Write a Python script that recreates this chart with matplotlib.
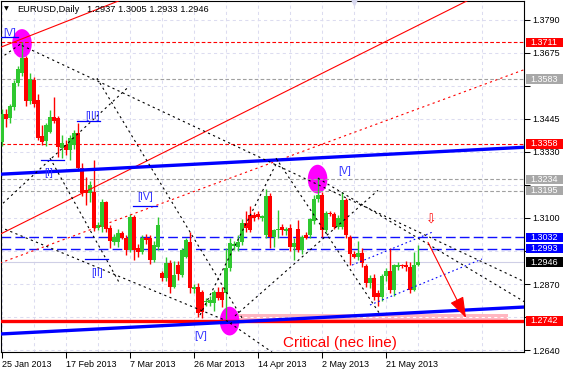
import numpy as np
import matplotlib
matplotlib.use("Agg")
import matplotlib.pyplot as plt
from matplotlib.patches import Rectangle, Ellipse
from matplotlib.transforms import blended_transform_factory

plt.rcParams['font.family'] = ['Liberation Sans', 'DejaVu Sans']

# --- EURUSD daily candles (bar index = position) ---
opens = [
    1.3363, 1.3462, 1.3447, 1.3485, 1.3568, 1.3606, 1.3655, 1.3506, 1.3579, 1.3510,
    1.3384, 1.3367, 1.3398, 1.3450, 1.3447, 1.3343, 1.3353, 1.3336, 1.3353, 1.3394,
    1.3273, 1.3196, 1.3186, 1.3190, 1.3064, 1.3070, 1.3155, 1.3064, 1.3016, 1.3016,
    1.3047, 1.3030, 1.2988, 1.3103, 1.2995, 1.2981, 1.3030, 1.3030, 1.2953, 1.2998,
    1.2908, 1.2891, 1.2943, 1.2859, 1.2935, 1.2901, 1.2964, 1.3016, 1.2852, 1.2859,
    1.2842, 1.2808, 1.2804, 1.2804, 1.2842, 1.2842, 1.2839, 1.2925, 1.3002, 1.2998,
    1.3016, 1.3082, 1.3110, 1.3110, 1.3113, 1.3100, 1.3040, 1.3175, 1.3033, 1.3057,
    1.3068, 1.3055, 1.3064, 1.2998, 1.3060, 1.2988, 1.3040, 1.3040, 1.3090, 1.3165,
    1.3180, 1.3057, 1.3117, 1.3113, 1.3068, 1.3068, 1.3162, 1.3033, 1.2974, 1.2964,
    1.2978, 1.2932, 1.2873, 1.2891, 1.2839, 1.2825, 1.2898, 1.2915, 1.2849, 1.2929,
    1.2936, 1.2936, 1.2929, 1.2849, 1.2937]
highs = [
    1.3480, 1.3478, 1.3498, 1.3580, 1.3628, 1.3711, 1.3665, 1.3603, 1.3590, 1.3530,
    1.3422, 1.3430, 1.3474, 1.3520, 1.3455, 1.3387, 1.3370, 1.3390, 1.3405, 1.3429,
    1.3290, 1.3241, 1.3230, 1.3300, 1.3085, 1.3165, 1.3160, 1.3075, 1.3045, 1.3060,
    1.3055, 1.3040, 1.3115, 1.3110, 1.3010, 1.3040, 1.3045, 1.3040, 1.3020, 1.3103,
    1.2915, 1.2965, 1.2955, 1.2950, 1.2950, 1.2995, 1.3030, 1.3050, 1.2870, 1.2875,
    1.2850, 1.2820, 1.2830, 1.2850, 1.2860, 1.2860, 1.2995, 1.3030, 1.3020, 1.3040,
    1.3095, 1.3125, 1.3140, 1.3120, 1.3125, 1.3110, 1.3200, 1.3185, 1.3060, 1.3127,
    1.3080, 1.3070, 1.3080, 1.3030, 1.3092, 1.3040, 1.3050, 1.3100, 1.3180, 1.3243,
    1.3190, 1.3125, 1.3125, 1.3120, 1.3110, 1.3190, 1.3170, 1.3040, 1.2985, 1.3020,
    1.2995, 1.2940, 1.2900, 1.2905, 1.2850, 1.2905, 1.2925, 1.2995, 1.2940, 1.2945,
    1.2940, 1.2950, 1.2945, 1.2980, 1.3005]
lows = [
    1.3352, 1.3415, 1.3430, 1.3475, 1.3558, 1.3595, 1.3490, 1.3495, 1.3485, 1.3370,
    1.3353, 1.3350, 1.3394, 1.3429, 1.3311, 1.3308, 1.3320, 1.3300, 1.3340, 1.3265,
    1.3175, 1.3144, 1.3155, 1.3055, 1.3058, 1.3050, 1.3050, 1.2995, 1.3005, 1.3000,
    1.3025, 1.2970, 1.2980, 1.2955, 1.2965, 1.2975, 1.3010, 1.2940, 1.2945, 1.2990,
    1.2880, 1.2880, 1.2840, 1.2855, 1.2885, 1.2895, 1.2960, 1.2840, 1.2840, 1.2755,
    1.2750, 1.2795, 1.2795, 1.2775, 1.2815, 1.2790, 1.2748, 1.2915, 1.2990, 1.2985,
    1.3005, 1.3050, 1.3050, 1.3090, 1.3095, 1.3090, 1.3030, 1.2995, 1.3000, 1.3030,
    1.3040, 1.3040, 1.2985, 1.2953, 1.2980, 1.2975, 1.3025, 1.3030, 1.3080, 1.3155,
    1.3033, 1.3050, 1.3105, 1.3060, 1.3060, 1.3060, 1.3030, 1.2935, 1.2960, 1.2955,
    1.2930, 1.2860, 1.2855, 1.2815, 1.2795, 1.2810, 1.2880, 1.2840, 1.2830, 1.2920,
    1.2925, 1.2915, 1.2840, 1.2845, 1.2933]
closes = [
    1.3462, 1.3445, 1.3488, 1.3568, 1.3617, 1.3655, 1.3506, 1.3582, 1.3495, 1.3377,
    1.3363, 1.3422, 1.3450, 1.3436, 1.3346, 1.3360, 1.3336, 1.3377, 1.3394, 1.3273,
    1.3186, 1.3186, 1.3214, 1.3064, 1.3075, 1.3155, 1.3060, 1.3020, 1.3033, 1.3047,
    1.3030, 1.2988, 1.3103, 1.2988, 1.2981, 1.3030, 1.3023, 1.2953, 1.3005, 1.3075,
    1.2891, 1.2943, 1.2859, 1.2901, 1.2905, 1.2988, 1.3023, 1.2856, 1.2859, 1.2769,
    1.2773, 1.2811, 1.2814, 1.2842, 1.2821, 1.2814, 1.2925, 1.3012, 1.3010, 1.3016,
    1.3082, 1.3064, 1.3057, 1.3100, 1.3103, 1.3105, 1.3175, 1.3033, 1.3057, 1.3060,
    1.3057, 1.3062, 1.2998, 1.3012, 1.2988, 1.3033, 1.3030, 1.3096, 1.3165, 1.3180,
    1.3057, 1.3117, 1.3113, 1.3068, 1.3100, 1.3162, 1.3040, 1.2975, 1.2964, 1.2978,
    1.2943, 1.2873, 1.2891, 1.2825, 1.2825, 1.2898, 1.2915, 1.2849, 1.2936, 1.2936,
    1.2932, 1.2929, 1.2849, 1.2936, 1.2946]

date_labels = ["25 Jan 2013", "17 Feb 2013", "7 Mar 2013", "26 Mar 2013",
               "14 Apr 2013", "2 May 2013", "21 May 2013"]
date_bars = [0, 16, 32, 48, 64, 80, 96]
grid_bars = [8, 24, 40, 56, 72, 88, 104, 120]
price_ticks = [1.2640, 1.2755, 1.2870, 1.2985, 1.3100, 1.3215,
               1.3330, 1.3445, 1.3560, 1.3675, 1.3790]
# scale labels hidden behind the coloured price boxes
covered_ticks = [1.2755, 1.2985, 1.3215, 1.3560]

# horizontal levels
red_levels = [1.3711, 1.3358]
gray_levels = [1.3583, 1.3234, 1.3195]
blue_levels = [1.3032, 1.2993]
critical_level = 1.2742
bid_price = 1.2946

# price scale boxes (price, background)
box_prices = [1.3711, 1.3583, 1.3358, 1.3234, 1.3195, 1.3032, 1.2993, 1.2946, 1.2742]
box_colors = ['#ff0000', '#a8a8a8', '#ff0000', '#a8a8a8', '#a8a8a8',
              '#0000ff', '#0000ff', '#000000', '#ff0000']

# trend lines, (bar, price) anchor pairs
red_solid_lines = [[(-0.5, 1.3043), (116.5, 1.3857)],
                   [(-0.5, 1.3693), (29.5, 1.3857)]]
red_dotted_line = [(-0.5, 1.2943), (130.75, 1.3617)]
blue_thick_lines = [[(-0.5, 1.3252), (130.75, 1.3346)],
                    [(-0.5, 1.2696), (130.75, 1.2790)]]
fan_lines = [
    [(-0.5, 1.3655), (4.5, 1.3704)],
    [(5.0, 1.3700), (130.75, 1.2877)],
    [(0.25, 1.3151), (31.25, 1.3551)],
    [(23.75, 1.3586), (60.0, 1.2752)],
    [(-0.5, 1.3068), (57.5, 1.2734)],
    [(12.0, 1.3308), (29.5, 1.2870)],
    [(49.5, 1.2762), (69.0, 1.3301)],
    [(68.5, 1.3308), (94.5, 1.2765)],
    [(58.25, 1.2759), (94.0, 1.3196)],
    [(79.0, 1.3238), (130.75, 1.2807)],
    [(57.0, 1.2734), (67.5, 1.2633)],
]
channel_lines = [[(87.5, 1.2936), (107.5, 1.3050)],
                 [(92.0, 1.2797), (120.0, 1.2957)]]

# Elliott wave labels
wave_text = ["[V]", "[III]", "[I]", "[IV]", "[II]", "[V]", "[V]"]
wave_bar = [1.9, 22.75, 11.75, 35.75, 23.9, 49.75, 85.75]
wave_price = [1.3745, 1.3454, 1.3257, 1.3172, 1.2910, 1.2689, 1.3264]
wave_marks = [(-0.5, 4.0, 1.3728), (18.75, 24.5, 1.3436), (9.75, 15.5, 1.3301),
              (32.75, 38.75, 1.3141), (20.75, 26.5, 1.2957)]

# highlighted turning points
circle_bar = [5.0, 78.9, 56.9]
circle_price = [1.3707, 1.3235, 1.2741]

zone_bars = (55.75, 126.5)
zone_prices = (1.2742, 1.2765)
arrow_from = (106.5, 1.3015)
arrow_to = (116.0, 1.2752)

GREEN = '#2fc82f'
RED = '#ff0000'
BLUE = '#0000ff'

fig = plt.figure(figsize=(5.65, 3.75), dpi=100)
ax = fig.add_axes([1 / 565, 23 / 375, 523 / 565, 351.5 / 375])
ax.set_xlim(-0.25, 130.5)
ax.set_ylim(1.26334, 1.38566)

# grid and scales
ax.set_xticks(date_bars)
ax.set_xticklabels(date_labels, ha='left')
ax.set_xticks(grid_bars, minor=True)
ax.yaxis.tick_right()
ax.set_yticks(price_ticks)
ax.set_yticklabels(["" if v in covered_ticks else f"{v:.4f}" for v in price_ticks])
ax.grid(True, which='both', axis='x', color='#dcdcf0', lw=0.75, ls=(0, (3, 3)), zorder=0)
ax.grid(True, which='major', axis='y', color='#dcdcf0', lw=0.75, ls=(0, (3, 3)), zorder=0)
ax.set_axisbelow(True)
ax.tick_params(axis='x', which='major', length=4, width=0.75, pad=2, labelsize=6.5)
ax.tick_params(axis='x', which='minor', length=0)
ax.tick_params(axis='y', length=4, width=0.75, pad=2, labelsize=6.5)
for s in ax.spines.values():
    s.set_linewidth(0.8)
    s.set_color('black')

# background objects
ax.add_patch(Rectangle((zone_bars[0], zone_prices[0]), zone_bars[1] - zone_bars[0],
                       zone_prices[1] - zone_prices[0], facecolor='#ffb6c1',
                       edgecolor='none', zorder=1))
ax.plot(zone_bars, [np.mean(zone_prices)] * 2, color='white', lw=0.75, ls=(0, (3, 3)), zorder=1.1)
for b, p in zip(circle_bar, circle_price):
    ax.add_patch(Ellipse((b, p), 4.9, 0.0100, facecolor='#ff00ff', edgecolor='none', zorder=1.2))

# candles
x = np.arange(len(opens))
o, h, l, c = (np.array(v) for v in (opens, highs, lows, closes))
cols = np.where(c >= o, GREEN, RED)
ax.vlines(x, l, h, colors=cols, lw=1.0, zorder=3)
body = np.maximum(np.abs(c - o), 0.0003)
ax.bar(x, body, width=0.8, bottom=np.minimum(o, c), color=cols, edgecolor='none', zorder=3.1)

# horizontal lines
for p in red_levels:
    ax.axhline(p, color=RED, lw=0.8, ls=(0, (3.3, 2)), zorder=2)
for p in gray_levels:
    ax.axhline(p, color='#a0a0a0', lw=0.8, ls=(0, (3.3, 2)), zorder=2)
for p in blue_levels:
    ax.axhline(p, color='#1010ff', lw=1.0, ls=(0, (7, 3)), zorder=2)
ax.axhline(bid_price, color='#cfcfe6', lw=0.8, zorder=2)
ax.axhline(critical_level, color=RED, lw=2.4, zorder=4)

# trend lines
for (p, q) in red_solid_lines:
    ax.plot([p[0], q[0]], [p[1], q[1]], color=RED, lw=0.8, zorder=4)
p, q = red_dotted_line
ax.plot([p[0], q[0]], [p[1], q[1]], color=RED, lw=0.8, ls=(0, (2, 3)), zorder=4)
for (p, q) in blue_thick_lines:
    ax.plot([p[0], q[0]], [p[1], q[1]], color=BLUE, lw=2.4, zorder=4)
for (p, q) in fan_lines:
    ax.plot([p[0], q[0]], [p[1], q[1]], color='black', lw=0.8, ls=(0, (2, 3)), zorder=4)
for (p, q) in channel_lines:
    ax.plot([p[0], q[0]], [p[1], q[1]], color=BLUE, lw=0.8, ls=(0, (1.5, 2.5)), zorder=4)

# wave labels
for t, b, p in zip(wave_text, wave_bar, wave_price):
    ax.text(b, p, t, color='#3030ff', fontsize=7.5, ha='center', va='center', zorder=5)
for b0, b1, p in wave_marks:
    ax.plot([b0, b1], [p, p], color=BLUE, lw=0.9, zorder=5)

# forecast arrow
ax.annotate('', xy=arrow_to, xytext=arrow_from,
            arrowprops=dict(arrowstyle='-|>,head_length=1.3,head_width=0.45',
                            color=RED, lw=0.8, shrinkA=0, shrinkB=0), zorder=5)
ax.text(107.25, 1.3092, '\u21e9', color=RED, fontsize=9, ha='center', va='center',
        family='DejaVu Sans', zorder=5)
ax.text(70.25, 1.2651, 'Critical (nec line)', color=RED, fontsize=11, ha='left',
        va='baseline', zorder=5)

# chart shift marker
ax.plot([88.0], [1.3850], marker='v', markersize=5, color='#d8d8ee', clip_on=False, zorder=5)

# price scale boxes
trans = blended_transform_factory(ax.transAxes, ax.transData)
for p, bg in zip(box_prices, box_colors):
    ax.add_patch(Rectangle((1 + 2 / 523, p - 0.00165), 37 / 523, 0.0033, transform=trans,
                           facecolor=bg, edgecolor='none', clip_on=False, zorder=6))
    ax.text(1 + 6.5 / 523, p, f"{p:.4f}", transform=trans, color='white', fontsize=6.5,
            ha='left', va='center', clip_on=False, zorder=7)

# header
fig.text(6.5 / 565, 1 - 9 / 375, '\u25bc', fontsize=4.5, ha='center', va='center',
         family='DejaVu Sans')
fig.text(17 / 565, 1 - 12.5 / 375, 'EURUSD,Daily', fontsize=6.7, va='baseline')
fig.text(87 / 565, 1 - 12.5 / 375, '1.2937 1.3005 1.2933 1.2946', fontsize=6.7, va='baseline')

fig.savefig('out.png', dpi=100, facecolor='white')
